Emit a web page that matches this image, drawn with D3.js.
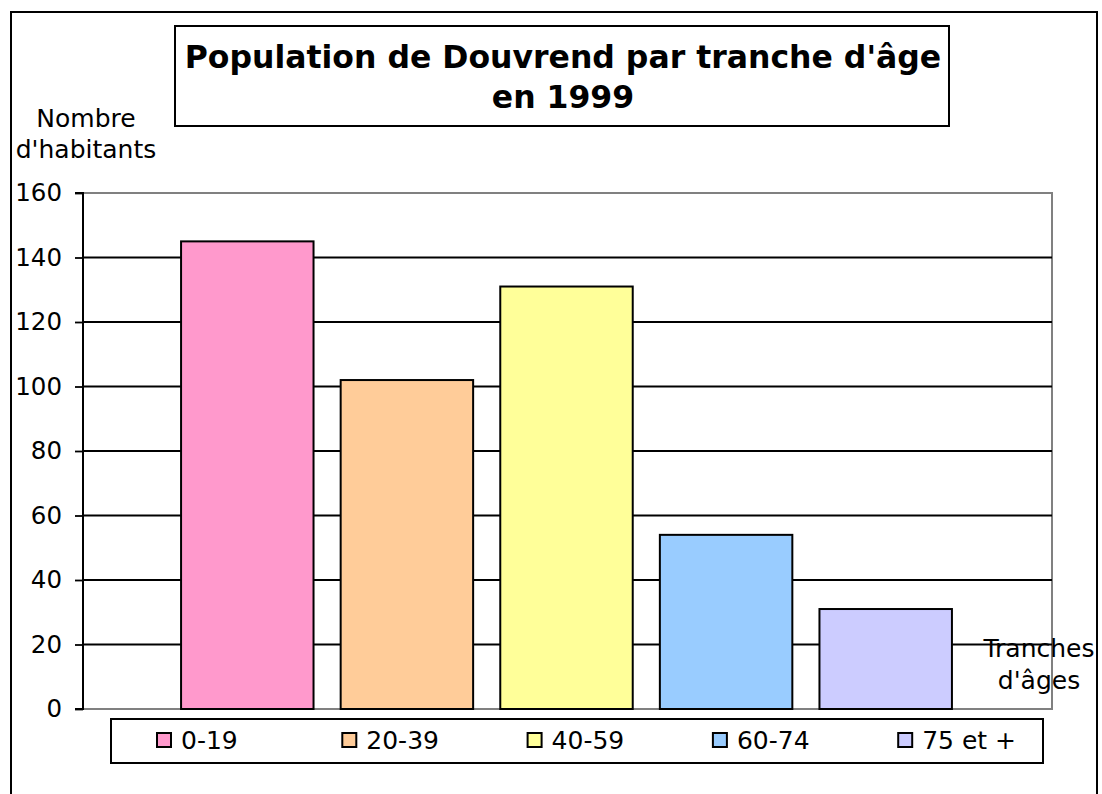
<!DOCTYPE html>
<html>
<head>
<meta charset="utf-8">
<script src="https://cdn.jsdelivr.net/npm/d3@7"></script>
<style>
  html, body { margin: 0; padding: 0; background: #fff; }
  svg text { font-family: "DejaVu Sans", Verdana, sans-serif; fill: #000; }
</style>
</head>
<body>
<svg id="chart" width="1102" height="794"></svg>
<script>
const categories = ["0-19", "20-39", "40-59", "60-74", "75 et +"];
const values = [145, 102, 131, 54, 31];
const colors = ["#FF99CC", "#FFCC99", "#FFFF99", "#99CCFF", "#CCCCFF"];
const yTicks = [0, 20, 40, 60, 80, 100, 120, 140, 160];
const titleLines = ["Population de Douvrend par tranche d'âge", "en 1999"];
const yLabelLines = ["Nombre", "d'habitants"];
const xLabelLines = ["Tranches", "d'âges"];

const svg = d3.select("#chart");

// outer frame
svg.append("rect").attr("x", 11).attr("y", 12).attr("width", 1086).attr("height", 800)
  .attr("fill", "#fff").attr("stroke", "#000").attr("stroke-width", 2);

// plot area
const plot = {left: 83, right: 1052, top: 193, bottom: 709};
const y = d3.scaleLinear().domain([0, 160]).range([plot.bottom, plot.top]);
const x = d3.scaleBand().domain(categories).range([167.5, 965.5])
  .paddingInner(0.17).paddingOuter(0.085);

// plot border (gray)
svg.append("rect").attr("x", plot.left).attr("y", plot.top)
  .attr("width", plot.right - plot.left).attr("height", plot.bottom - plot.top)
  .attr("fill", "#fff").attr("stroke", "#808080").attr("stroke-width", 2);

// gridlines
svg.append("g").selectAll("line").data(yTicks.filter(t => t > 0 && t < 160)).join("line")
  .attr("x1", plot.left).attr("x2", plot.right)
  .attr("y1", d => y(d)).attr("y2", d => y(d))
  .attr("stroke", "#000").attr("stroke-width", 1.8);

// bars
svg.append("g").selectAll("rect").data(values).join("rect")
  .attr("x", (d, i) => x(categories[i]))
  .attr("y", d => y(d))
  .attr("width", x.bandwidth())
  .attr("height", d => y(0) - y(d))
  .attr("fill", (d, i) => colors[i])
  .attr("stroke", "#000").attr("stroke-width", 2);

// y axis
const yAxis = d3.axisLeft(y).tickValues(yTicks).tickSize(8).tickPadding(13).tickFormat(d3.format("d"));
const ga = svg.append("g").attr("transform", `translate(${plot.left},0)`).call(yAxis);
ga.select(".domain").attr("stroke", "#000").attr("stroke-width", 2).attr("d", `M-8,${plot.top}H0V${plot.bottom}H-8`);
ga.selectAll(".tick line").attr("stroke", "#000").attr("stroke-width", 1.8);
ga.selectAll(".tick text").style("font-size", "24.5px").style("font-family", "'DejaVu Sans', Verdana, sans-serif").attr("fill", "#000");

// title box
svg.append("rect").attr("x", 175).attr("y", 26).attr("width", 774).attr("height", 100)
  .attr("fill", "#fff").attr("stroke", "#000").attr("stroke-width", 2);
svg.append("text").attr("x", 563).attr("text-anchor", "middle")
  .style("font-size", "31.5px").style("font-weight", "bold")
  .selectAll("tspan").data(titleLines).join("tspan")
  .attr("x", 563).attr("y", (d, i) => 68 + i * 40).text(d => d);

// y label
svg.append("text").attr("text-anchor", "middle").style("font-size", "25px")
  .selectAll("tspan").data(yLabelLines).join("tspan")
  .attr("x", 86).attr("y", (d, i) => 127 + i * 31).text(d => d);

// x label
svg.append("text").attr("text-anchor", "middle").style("font-size", "25px")
  .selectAll("tspan").data(xLabelLines).join("tspan")
  .attr("x", 1039).attr("y", (d, i) => 657 + i * 32).text(d => d);

// legend
svg.append("rect").attr("x", 111).attr("y", 719).attr("width", 932).attr("height", 44)
  .attr("fill", "#fff").attr("stroke", "#000").attr("stroke-width", 2);
const lg = svg.append("g").selectAll("g").data(categories).join("g")
  .attr("transform", (d, i) => `translate(${157 + i * 185.3},0)`);
lg.append("rect").attr("x", 0).attr("y", 733).attr("width", 14).attr("height", 14)
  .attr("fill", (d, i) => colors[i]).attr("stroke", "#000").attr("stroke-width", 2);
lg.append("text").attr("x", 24).attr("y", 749).style("font-size", "25px").text(d => d);
</script>
</body>
</html>
